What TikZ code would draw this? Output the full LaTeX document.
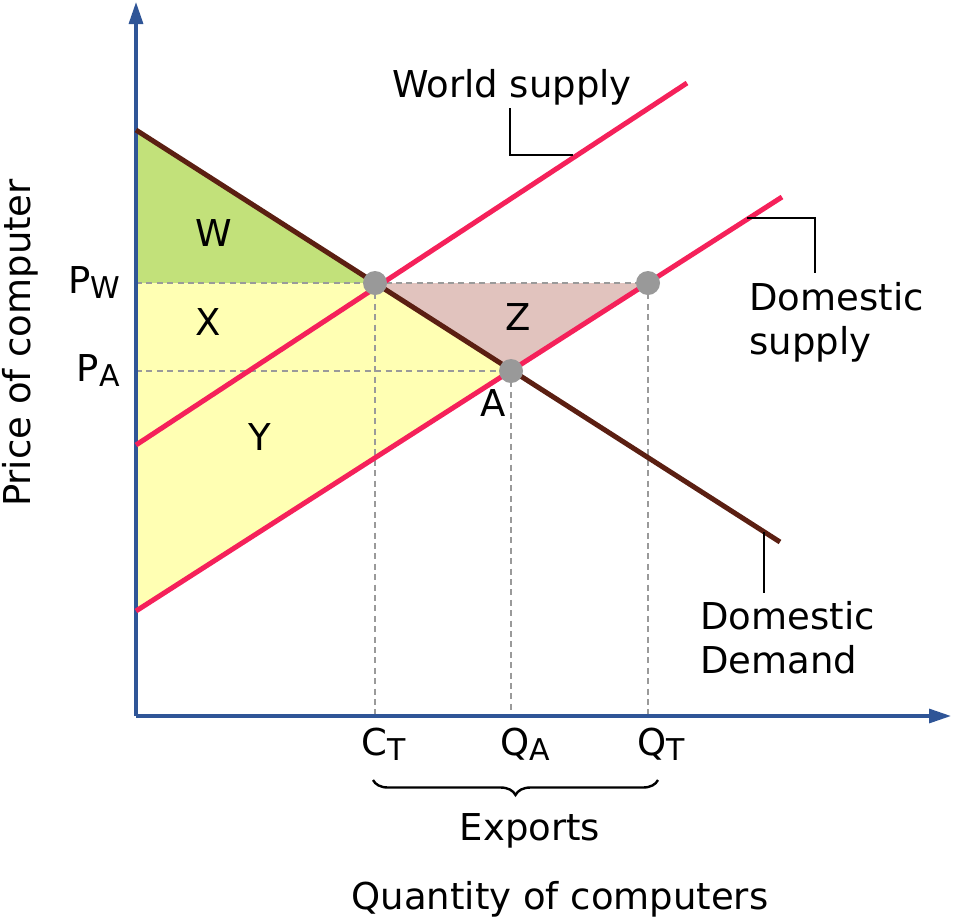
\documentclass[tikz,border=0pt]{standalone}
\usepackage{fontspec}
\setmainfont{DejaVu Sans}
\usetikzlibrary{decorations.pathreplacing,arrows.meta}
\definecolor{axisblue}{HTML}{2F5597}
\definecolor{supred}{HTML}{F5215A}
\definecolor{dembrown}{HTML}{5B1F12}
\definecolor{wgreen}{HTML}{C2E17A}
\definecolor{xyellow}{HTML}{FFFFB3}
\definecolor{zpink}{HTML}{E1C3BE}
\definecolor{dashgray}{HTML}{9A9A9A}
\definecolor{dotgray}{HTML}{999999}
\newcommand{\lblsub}[2]{#1\raisebox{-2.8pt}{\fontsize{15}{17}\selectfont #2}}
\begin{document}
\begin{tikzpicture}[x=0.5pt,y=-0.5pt,
  font=\fontsize{18.5}{22}\selectfont,
  axisline/.style={draw=axisblue,line width=1.6pt,-{Triangle[length=11pt,width=7pt]}},
  supline/.style={draw=supred,line width=2.5pt},
  demline/.style={draw=dembrown,line width=2.5pt},
  dashline/.style={draw=dashgray,line width=1.4pt,dash pattern=on 3pt off 2.2pt},
  leader/.style={draw=black,line width=1.2pt},
  txt/.style={inner sep=0pt,text=black},
  dotpt/.style={fill=dotgray}]
\useasboundingbox (0,0) rectangle (953,922);
% coordinates
\coordinate (O) at (136,716);
\coordinate (Ytop) at (136,2);
\coordinate (Xend) at (951,716);
\coordinate (D1) at (136,130);
\coordinate (D2) at (780,542);
\coordinate (S1) at (136,445);
\coordinate (S2) at (687,83);
\coordinate (T1) at (136,611);
\coordinate (T2) at (782,197);
\coordinate (PW) at (375,283);
\coordinate (A) at (511,371);
\coordinate (QT) at (648,283);
\coordinate (PWaxis) at (136,283);
\coordinate (PAaxis) at (136,371);
\coordinate (CTx) at (375,716);
\coordinate (QAx) at (511,716);
\coordinate (QTx) at (648,716);
% areas
\fill[wgreen] (D1) -- (PW) -- (PWaxis) -- cycle;
\fill[xyellow] (PWaxis) -- (PW) -- (A) -- (T1) -- cycle;
\fill[zpink] (PW) -- (QT) -- (A) -- cycle;
% dashed guides
\draw[dashline] (PWaxis) -- (QT);
\draw[dashline] (PAaxis) -- (A);
\draw[dashline] (PW) -- (CTx);
\draw[dashline] (A) -- (QAx);
\draw[dashline] (QT) -- (QTx);
% axes
\draw[axisline] (O) -- (Ytop);
\draw[axisline] (O) -- (Xend);
% curves
\draw[supline] (S1) -- (S2);
\draw[supline] (T1) -- (T2);
\draw[demline] (D1) -- (D2);
% dots
\fill[dotpt] (PW) circle (12);
\fill[dotpt] (A) circle (12);
\fill[dotpt] (QT) circle (12);
% leaders
\coordinate (WSa) at (573,155);
\coordinate (WSb) at (510,155);
\coordinate (WSc) at (510,108);
\draw[leader] (WSa) -- (WSb) -- (WSc);
\coordinate (DSa) at (747,218);
\coordinate (DSb) at (815,218);
\coordinate (DSc) at (815,273);
\draw[leader] (DSa) -- (DSb) -- (DSc);
\coordinate (DDa) at (764,532);
\coordinate (DDb) at (764,593);
\draw[leader] (DDa) -- (DDb);
% area labels
\node[txt] (lW) at (214,233) {W};
\node[txt] (lX) at (208,322) {X};
\node[txt] (lY) at (260,437) {Y};
\node[txt] (lZ) at (518,317) {Z};
\node[txt] (lA) at (493,403) {A};
% curve labels
\node[txt,anchor=base] (lWS) at (512,97) {World supply};
\node[txt,anchor=north west,align=left] (lDS) at (749,282) {Domestic\\supply};
\node[txt,anchor=north west,align=left] (lDD) at (700,601) {Domestic\\Demand};
% axis ticks labels
\node[txt,anchor=base east] (lPW) at (121,293) {\lblsub{P}{W}};
\node[txt,anchor=base east] (lPA) at (120,381) {\lblsub{P}{A}};
\node[txt,anchor=base west] (lCT) at (361,755) {\lblsub{C}{T}};
\node[txt,anchor=base west] (lQA) at (500,755) {\lblsub{Q}{A}};
\node[txt,anchor=base west] (lQT) at (637,755) {\lblsub{Q}{T}};
% brace
\coordinate (Ba) at (373,780);
\coordinate (Bb) at (658,780);
\draw[line width=1.2pt,decorate,decoration={brace,mirror,amplitude=7.5pt}] (Ba) -- (Bb);
\node[txt,anchor=base] (lEx) at (530,840) {Exports};
% axis titles
\node[txt,anchor=base] (lQty) at (560,909) {Quantity of computers};
\node[txt,anchor=base,rotate=90] (lPrice) at (30,343) {Price of computer};
\end{tikzpicture}
\end{document}
